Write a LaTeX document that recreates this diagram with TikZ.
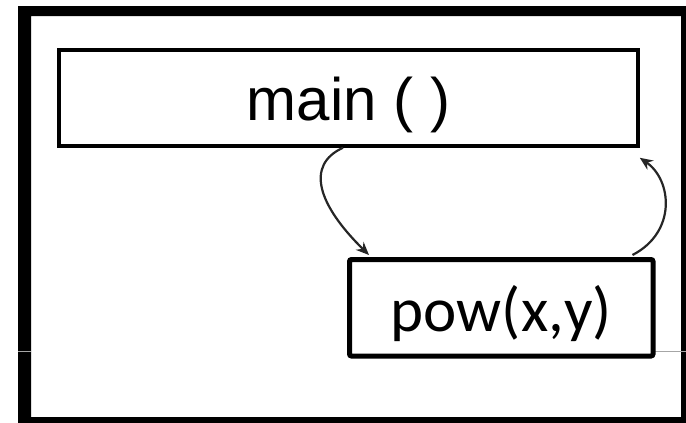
\documentclass[tikz,border=0pt]{standalone}
\usepackage{fontspec}
\setmainfont{Liberation Sans}
\newfontfamily\calib{Carlito}
\usetikzlibrary{arrows.meta}
\tikzset{
  box/.style={draw=black, rectangle, inner sep=0pt},
  flow/.style={draw=black!85, line width=2.2pt, -{Stealth[length=13pt,width=11pt]}},
}
\begin{document}
\begin{tikzpicture}[x=1pt,y=-1pt]
\useasboundingbox (0,0) rectangle (686,423);
% outer frame
\fill[black, even odd rule] (18,6) rectangle (686,423) (31,16) rectangle (681,417);
% faint line
\draw[gray!70, line width=1pt] (18,351) -- (31,351);
\draw[gray!70, line width=1pt] (655,351) -- (686,351);
% main box
\node[box, line width=3.5pt, minimum width=579pt, minimum height=96pt,
      text height=50pt, text depth=6pt, font=\fontsize{60}{60}\selectfont]
  (main) at (348.5,98) {main ( )};
% pow box
\node[box, line width=5pt, rounded corners=2pt, minimum width=303.5pt, minimum height=96.5pt,
      text height=50pt, text depth=3.5pt, font=\calib\fontsize{63}{63}\selectfont]
  (pow) at (501.25,307.75) {pow(x,y)};
% connectors
\coordinate (a1) at ([xshift=-5.5pt]main.south);
\coordinate (a2) at ([xshift=22pt,yshift=2pt]pow.north west);
\draw[flow] (a1) .. controls (305,165) and (318,205) .. (a2);
\coordinate (b1) at ([xshift=-23pt,yshift=2pt]pow.north east);
\coordinate (b2) at ([yshift=-10pt]main.south east);
\draw[flow] (b1) .. controls (677,232) and (672,180) .. (b2);
\end{tikzpicture}
\end{document}
